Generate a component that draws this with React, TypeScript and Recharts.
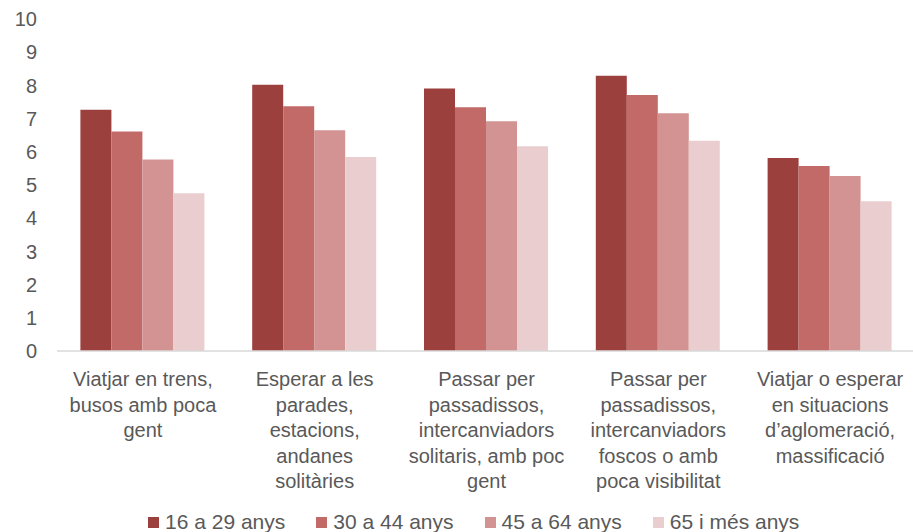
import React from 'react';
import { BarChart, Bar, XAxis, YAxis, Legend } from 'recharts';

const categories: string[] = [
  'Viatjar en trens,|busos amb poca|gent',
  'Esperar a les|parades,|estacions,|andanes|solitàries',
  'Passar per|passadissos,|intercanviadors|solitaris, amb poc|gent',
  'Passar per|passadissos,|intercanviadors|foscos o amb|poca visibilitat',
  'Viatjar o esperar|en situacions|d’aglomeració,|massificació',
];
const seriesNames: string[] = ['16 a 29 anys', '30 a 44 anys', '45 a 64 anys', '65 i més anys'];
const age16to29: number[] = [7.27, 8.02, 7.91, 8.29, 5.81];
const age30to44: number[] = [6.61, 7.37, 7.34, 7.71, 5.57];
const age45to64: number[] = [5.77, 6.65, 6.92, 7.16, 5.27];
const age65plus: number[] = [4.75, 5.84, 6.17, 6.33, 4.51];
const yTicks: number[] = [0, 1, 2, 3, 4, 5, 6, 7, 8, 9, 10];

const colors = ['#9C403E', '#C16A68', '#D39393', '#EACECF'];
const keys = ['a', 'b', 'c', 'd'];

const data = categories.map((c, i) => ({
  name: c,
  a: age16to29[i],
  b: age30to44[i],
  c: age45to64[i],
  d: age65plus[i],
}));

const FONT = '"Liberation Sans", Arial, sans-serif';
const TEXT_COLOR = '#595959';

const XTick = (props: any) => {
  const { x, y, payload } = props;
  const lines: string[] = String(payload.value).split('|');
  return (
    <text x={x} y={y} textAnchor="middle" fill={TEXT_COLOR} fontFamily={FONT} fontSize={20}>
      {lines.map((l, i) => (
        <tspan key={i} x={x} y={y + 35 + i * 25.5}>
          {l}
        </tspan>
      ))}
    </text>
  );
};

const LegendContent = () => (
  <div style={{ display: 'flex', alignItems: 'center', height: 26, fontFamily: FONT, fontSize: 21, color: TEXT_COLOR, whiteSpace: 'nowrap' }}>
    {seriesNames.map((n, i) => (
      <div key={n} style={{ display: 'flex', alignItems: 'center', marginRight: i < seriesNames.length - 1 ? 31 : 0 }}>
        <span style={{ display: 'inline-block', width: 11, height: 11, background: colors[i], marginRight: 6 }} />
        <span>{n}</span>
      </div>
    ))}
  </div>
);

export default function App() {
  return (
    <div style={{ position: 'absolute', left: 0, top: 0, width: 913, height: 532, background: '#fff', overflow: 'hidden' }}>
      <BarChart
        width={916}
        height={532}
        data={data}
        margin={{ top: 19, right: 0, left: 0, bottom: 0 }}
        barCategoryGap={23.4}
        barGap={0}
      >
        <XAxis
          dataKey="name"
          tick={<XTick />}
          tickLine={false}
          tickSize={0}
          tickMargin={0}
          interval={0}
          height={155}
          axisLine={{ stroke: '#D9D9D9', strokeWidth: 1.5 }}
        />
        <YAxis
          domain={[0, 10]}
          ticks={yTicks}
          width={57}
          axisLine={false}
          tickLine={false}
          tickSize={0}
          tickMargin={20}
          interval={0}
          tick={{ fill: TEXT_COLOR, fontSize: 20, fontFamily: FONT }}
        />
        <Legend
          verticalAlign="bottom"
          content={<LegendContent />}
          wrapperStyle={{ left: 148, top: 509, height: 26, width: 'auto' }}
        />
        {keys.map((k, i) => (
          <Bar key={k} dataKey={k} name={seriesNames[i]} fill={colors[i]} isAnimationActive={false} />
        ))}
      </BarChart>
    </div>
  );
}
